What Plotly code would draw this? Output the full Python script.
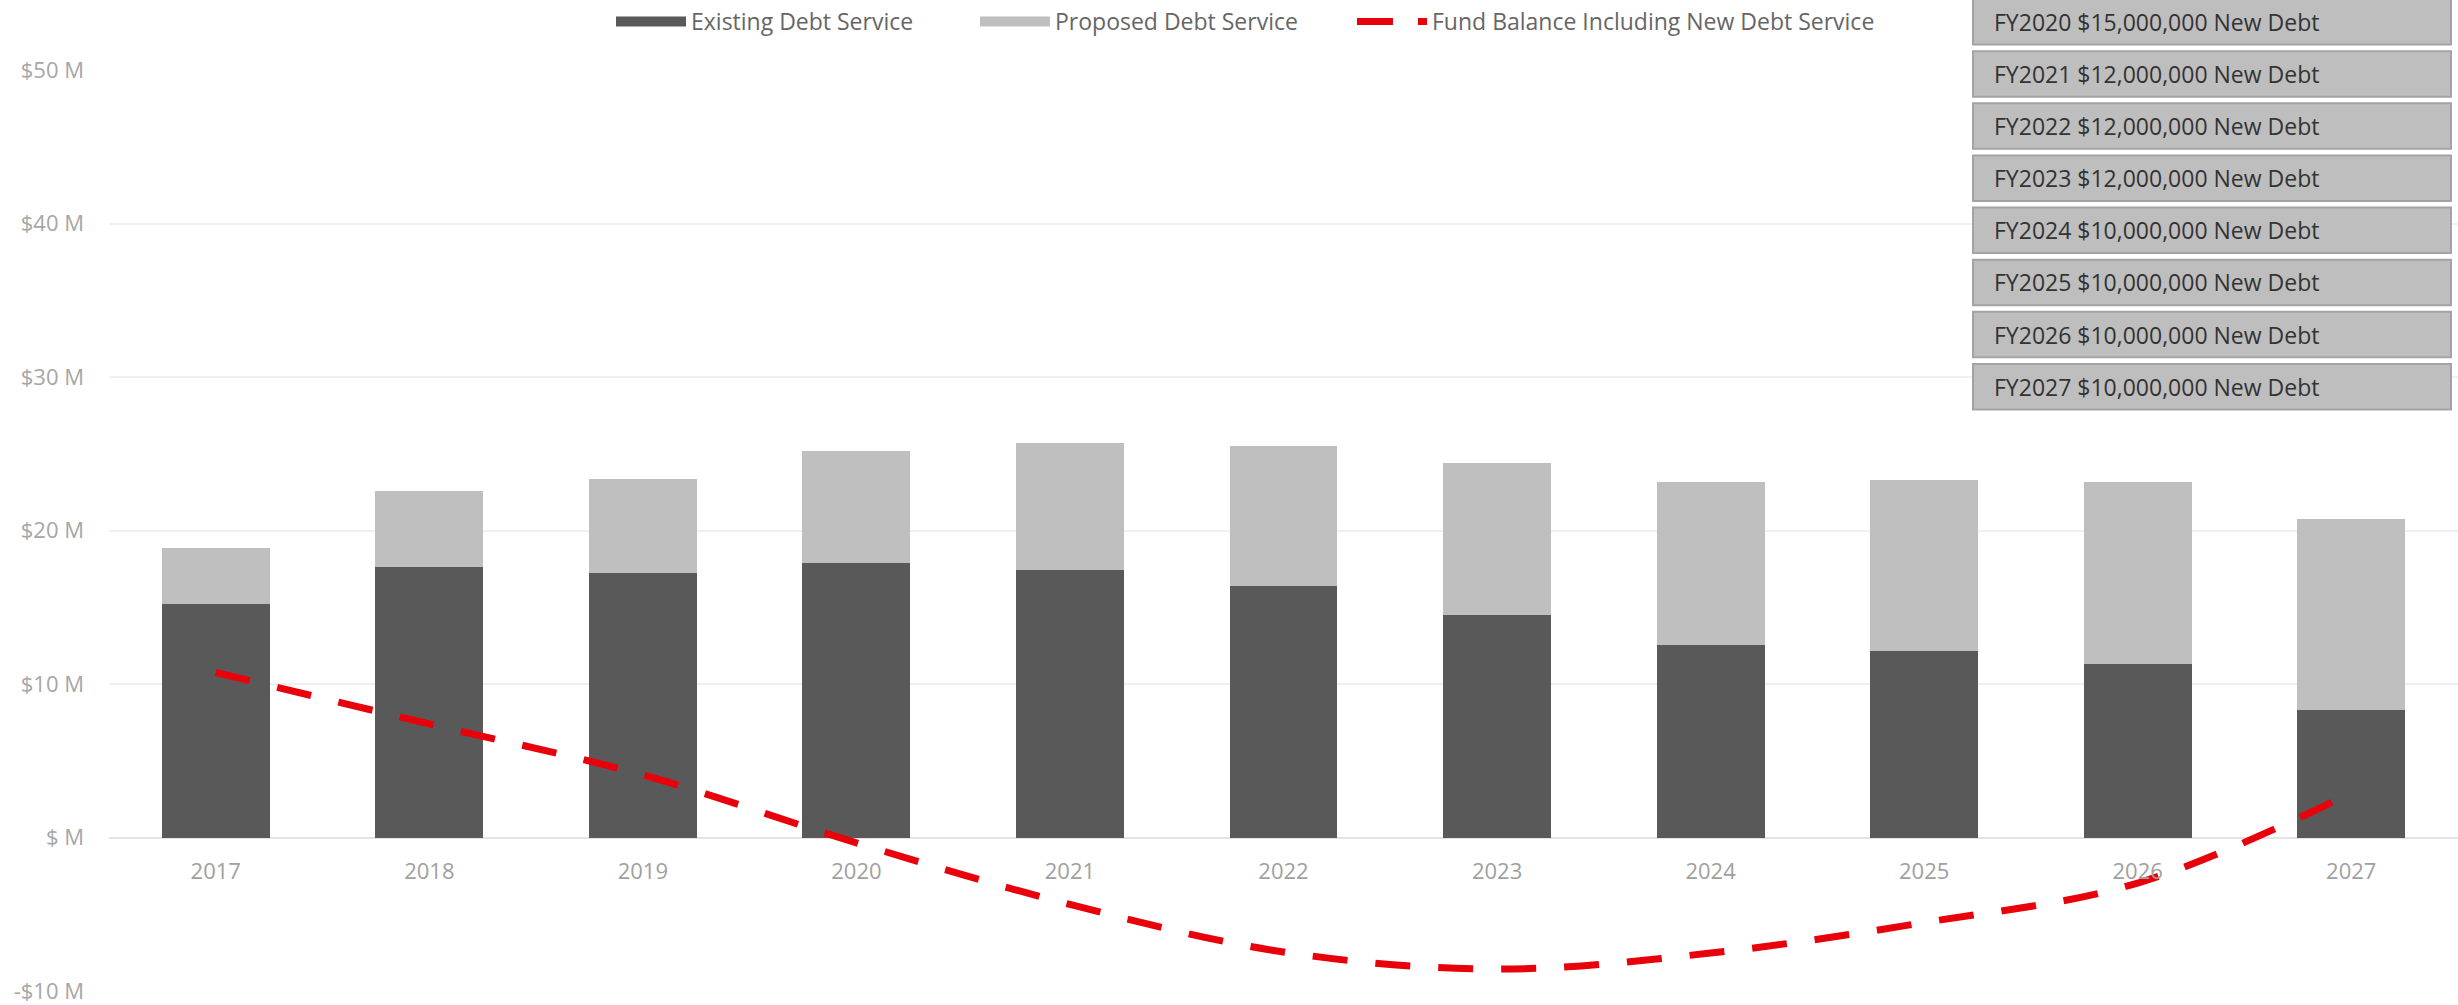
import plotly.graph_objects as go

# ---------------- data ----------------
years = ["2017", "2018", "2019", "2020", "2021", "2022", "2023", "2024", "2025", "2026", "2027"]
existing_debt = [15.23, 17.65, 17.25, 17.90, 17.40, 16.39, 14.47, 12.56, 12.13, 11.28, 8.30]   # $M
proposed_debt = [3.60, 4.94, 6.09, 7.30, 8.29, 9.12, 9.96, 10.60, 11.19, 11.88, 12.45]       # $M
fund_balance = [10.75, 7.40, 4.08, -0.35, -4.36, -7.46, -8.57, -7.53, -5.54, -2.97, 2.90]    # $M

y_tickvals = [-10, 0, 10, 20, 30, 40, 50]
y_ticktext = ["-$10 M", "$ M", "$10 M", "$20 M", "$30 M", "$40 M", "$50 M"]

debt_years = ["FY2020", "FY2021", "FY2022", "FY2023", "FY2024", "FY2025", "FY2026", "FY2027"]
new_debt = [15000000, 12000000, 12000000, 12000000, 10000000, 10000000, 10000000, 10000000]

# ---------------- styling ----------------
W, H = 2458, 1005
ML, MR, MT, MB = 109, 0, 70, 14
PW, PH = W - ML - MR, H - MT - MB
FONT = "Segoe UI, Open Sans, sans-serif"
C_EXIST = "#595959"
C_PROP = "#bfbfbf"
C_RED = "#e8000b"


def px_x(p):
    return (p - ML) / PW


def px_y(p):
    return (H - MB - p) / PH


fig = go.Figure()
fig.add_trace(go.Bar(x=years, y=[v * 1e6 for v in existing_debt], name="Existing Debt Service",
                     marker=dict(color=C_EXIST, line=dict(width=0)), showlegend=False,
                     legendgroup="e"))
fig.add_trace(go.Bar(x=years, y=[v * 1e6 for v in proposed_debt], name="Proposed Debt Service",
                     marker=dict(color=C_PROP, line=dict(width=0)), showlegend=False,
                     legendgroup="p"))
fig.add_trace(go.Scatter(x=years, y=[v * 1e6 for v in fund_balance],
                         name="Fund Balance Including New Debt Service", mode="lines",
                         line=dict(color=C_RED, width=7, dash="35px,28px", shape="spline", smoothing=1.0),
                         showlegend=False, legendgroup="f"))
# legend entries (one legend per entry, positioned like the reference)
fig.add_trace(go.Scatter(x=[None], y=[None], mode="lines", name="Existing Debt Service",
                         line=dict(color=C_EXIST, width=15), legendgroup="e", legend="legend"))
fig.add_trace(go.Scatter(x=[None], y=[None], mode="lines", name="Proposed Debt Service",
                         line=dict(color=C_PROP, width=15), legendgroup="p", legend="legend2"))
fig.add_trace(go.Scatter(x=[None], y=[None], mode="lines", name="Fund Balance Including New Debt Service",
                         line=dict(color=C_RED, width=7, dash="36px,25px"), legendgroup="f", legend="legend3"))

# new-debt boxes (top right)
shapes, annotations = [], []
for i, (fy, amt) in enumerate(zip(debt_years, new_debt)):
    top = -1 + 52.14 * i
    bot = top + 45.5
    shapes.append(dict(type="rect", xref="paper", yref="paper",
                       x0=px_x(1973), x1=px_x(2451), y0=px_y(bot), y1=px_y(top),
                       fillcolor="#bebebe", line=dict(color="#a3a3a3", width=2), layer="above"))
    annotations.append(dict(xref="paper", yref="paper", x=px_x(1992), y=px_y((top + bot) / 2),
                            xanchor="left", yanchor="middle", showarrow=False,
                            text=f"{fy} ${amt:,} New Debt",
                            font=dict(family=FONT, size=23, color="#333333")))


def legend_at(xpx):
    return dict(orientation="h", x=px_x(xpx), y=px_y(0), xanchor="left", yanchor="top",
                font=dict(family=FONT, size=23, color="#666666"), bgcolor="rgba(0,0,0,0)",
                itemwidth=70)


fig.update_layout(
    width=W, height=H,
    margin=dict(l=ML, r=MR, t=MT, b=MB, pad=0),
    paper_bgcolor="white", plot_bgcolor="white",
    barmode="stack", bargap=0.495,
    font=dict(family=FONT, size=22, color="#999999"),
    legend=legend_at(611), legend2=legend_at(975), legend3=legend_at(1352),
    shapes=shapes, annotations=annotations,
    xaxis=dict(type="category", anchor="free", position=10 / 60, showgrid=False, showline=False,
               zeroline=False, ticks="", tickfont=dict(family=FONT, size=22, color="#a0a0a0"),
               ticklabelstandoff=18),
    yaxis=dict(range=[-10e6, 50e6], tickvals=[v * 1e6 for v in y_tickvals], ticktext=y_ticktext,
               showgrid=True, gridcolor="#f0f0f0", gridwidth=2, zeroline=True,
               zerolinecolor="#e3e3e3", zerolinewidth=2, showline=False, ticks="",
               tickfont=dict(family=FONT, size=22, color="#a6a6a6"), ticklabelstandoff=24),
)

fig.write_html("out.html")
